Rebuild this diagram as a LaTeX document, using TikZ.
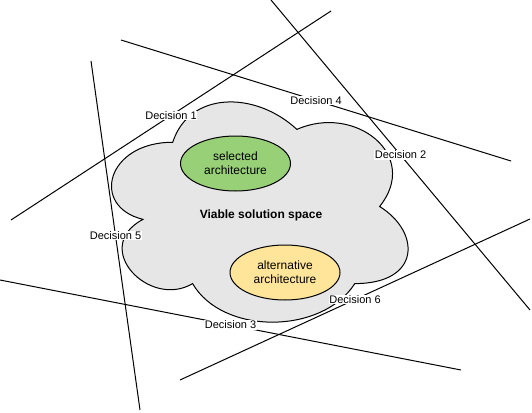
\documentclass[tikz,border=0pt]{standalone}
\usepackage{fontspec}
\setmainfont{Liberation Sans}
\usetikzlibrary{shapes.geometric}
\definecolor{cloudfill}{HTML}{E6E6E6}
\definecolor{selfill}{HTML}{97D077}
\definecolor{altfill}{HTML}{FFE599}
\tikzset{
  decline/.style={draw=black, line width=1pt},
  declabel/.style={fill=white, inner sep=0.5pt, font=\fontsize{11}{13}\selectfont},
  archnode/.style={ellipse, draw=black, line width=1pt, minimum width=110pt, minimum height=55pt, inner sep=0pt, align=center, font=\fontsize{12}{14}\selectfont},
}
\begin{document}
\begin{tikzpicture}[x=1pt,y=-1pt]
\useasboundingbox (0,0) rectangle (532,412);
% cloud
\draw[fill=cloudfill, line width=1pt] (172.75,142.25)
  .. controls (106.55,142.25) and (90,206.5) .. (142.96,219.35)
  .. controls (90,247.62) and (149.58,309.3) .. (192.61,283.6)
  .. controls (222.4,335) and (321.7,335) .. (354.8,283.6)
  .. controls (421,283.6) and (421,232.2) .. (379.625,206.5)
  .. controls (421,155.1) and (354.8,103.7) .. (296.875,129.4)
  .. controls (255.5,90.85) and (189.3,90.85) .. (172.75,142.25) -- cycle;
\node[font=\bfseries\fontsize{12}{14}\selectfont] (space) at (261,215) {Viable solution space};
\node[archnode, fill=selfill] (sel) at (235.5,163.5) {selected\\architecture};
\node[archnode, fill=altfill] (alt) at (285,272.5) {alternative\\architecture};
% decision lines
\coordinate (d1a) at (11,220);  \coordinate (d1b) at (331,11);
\coordinate (d2a) at (271,0);   \coordinate (d2b) at (530,310);
\coordinate (d3a) at (0,280);   \coordinate (d3b) at (461,370);
\coordinate (d4a) at (121,40);  \coordinate (d4b) at (511,161);
\coordinate (d5a) at (91,61);   \coordinate (d5b) at (140,410);
\coordinate (d6a) at (180,380); \coordinate (d6b) at (530,219);
\draw[decline] (d1a) -- node[declabel] (l1) {Decision 1} (d1b);
\draw[decline] (d2a) -- node[declabel] (l2) {Decision 2} (d2b);
\draw[decline] (d3a) -- node[declabel] (l3) {Decision 3} (d3b);
\draw[decline] (d4a) -- node[declabel] (l4) {Decision 4} (d4b);
\draw[decline] (d5a) -- node[declabel] (l5) {Decision 5} (d5b);
\draw[decline] (d6a) -- node[declabel] (l6) {Decision 6} (d6b);
\end{tikzpicture}
\end{document}
